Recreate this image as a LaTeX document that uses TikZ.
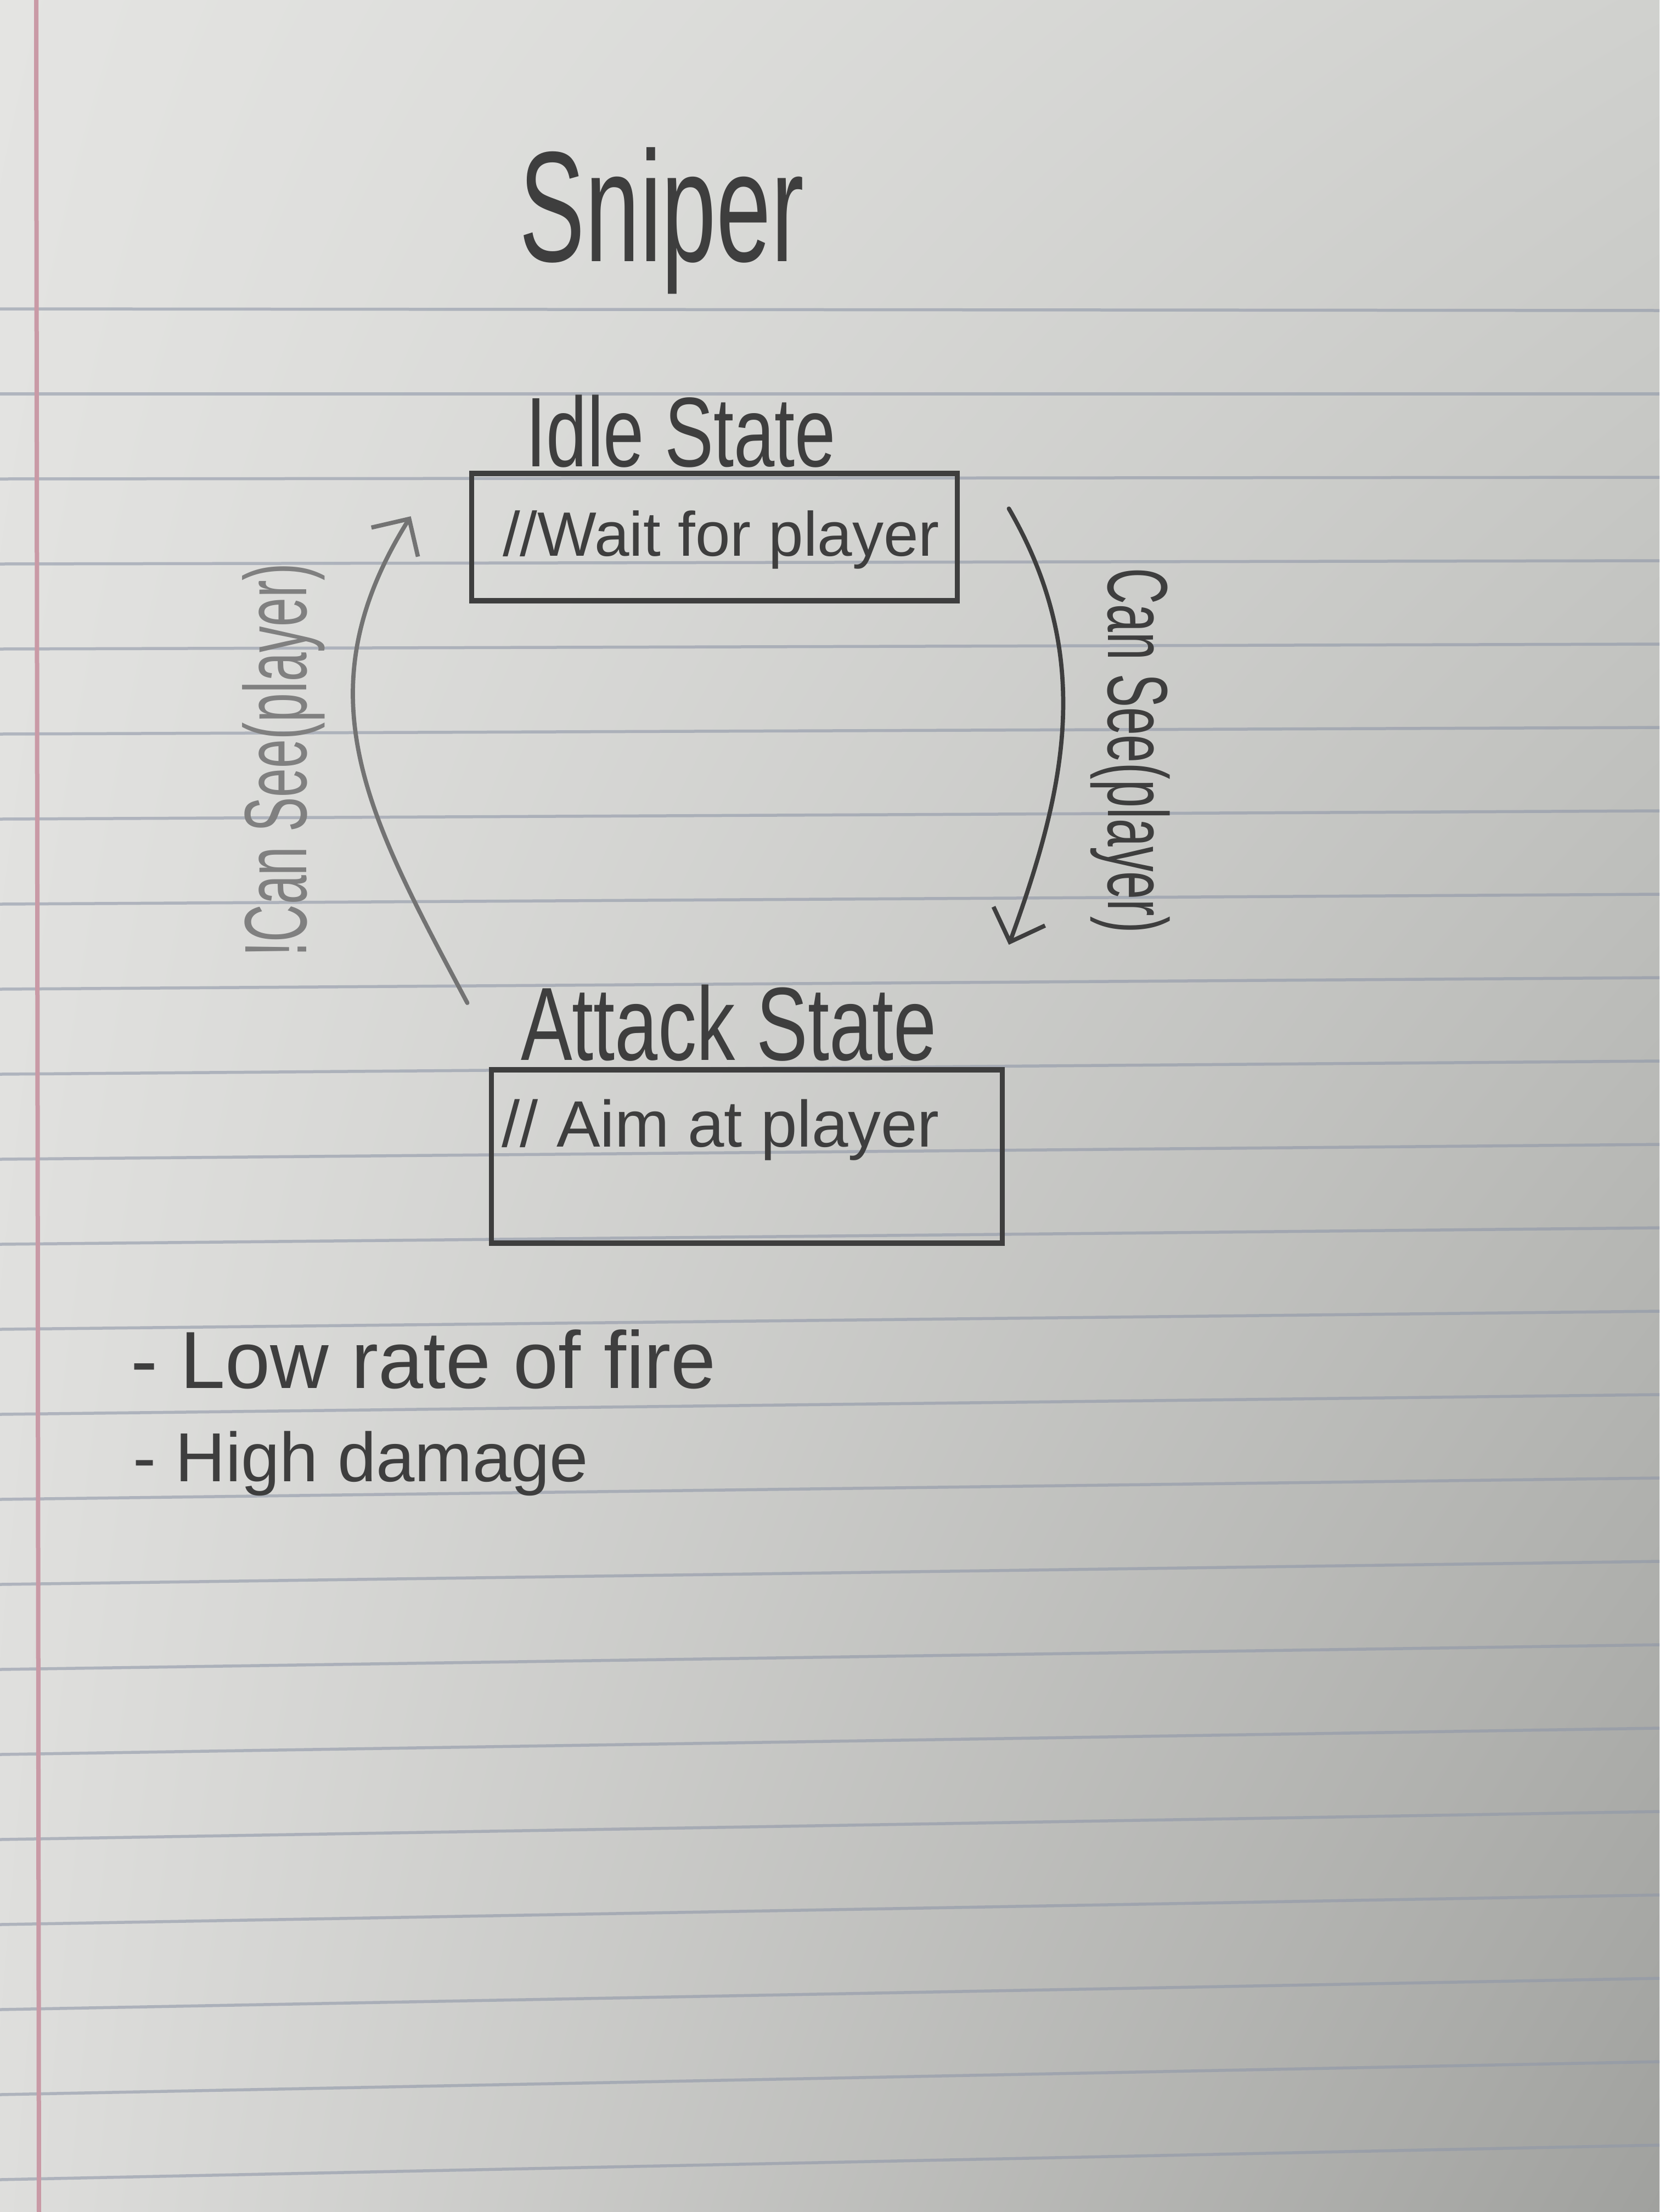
\documentclass[tikz,border=0pt]{standalone}
\usepackage{fontspec}
\setmainfont{Liberation Sans}
\usetikzlibrary{arrows.meta,shadings}

\definecolor{ink}{HTML}{3E3E3E}
\definecolor{fadeink}{HTML}{808080}
\definecolor{ruleblue}{HTML}{8F97A8}
\definecolor{marginpink}{HTML}{C99AA6}
\definecolor{paperA}{HTML}{E4E4E2}
\definecolor{paperB}{HTML}{D0D1CE}
\definecolor{paperC}{HTML}{DEDEDC}
\definecolor{paperD}{HTML}{A0A19E}

\begin{document}
\begin{tikzpicture}[
    hand/.style={text=ink, inner sep=0pt},
    statebox/.style={draw=ink, line width=2.8pt, rectangle, inner sep=0pt},
    trans/.style={draw=ink, line width=2.2pt, line cap=round,
      -{Straight Barb[length=5mm,width=10mm]}}
  ]

  % the notebook page
  \shade[upper left=paperA, upper right=paperB, lower left=paperC, lower right=paperD]
    (0,0) rectangle (30.24,-40.32);
  \useasboundingbox (0,0) rectangle (30.24,-40.32);
  \foreach \k in {0,...,22}
    \draw[ruleblue, opacity=0.6, line width=0.55mm] (0,-5.63-1.55*\k) -- (30.24,-5.66-1.52*\k);
  \draw[marginpink, line width=0.8mm] (0.66,0) -- (0.71,-40.32);

  % title
  \node[hand, font=\fontsize{51}{60}\selectfont, yscale=1.6, anchor=base] (title) at (12.06,-4.76) {Sniper};

  % states
  \node[hand, font=\fontsize{38}{44}\selectfont, yscale=1.35, anchor=base] (idlename) at (12.41,-8.50) {Idle State};
  \node[statebox, minimum width=8.85cm, minimum height=2.32cm] (idle) at (13.02,-9.79) {};
  \node[hand, font=\fontsize{32.5}{38}\selectfont, anchor=base] (idletext) at (13.14,-10.13) {//Wait for player};

  \node[hand, font=\fontsize{40}{46}\selectfont, yscale=1.35, anchor=base] (attackname) at (13.28,-19.32) {Attack State};
  \node[statebox, minimum width=9.31cm, minimum height=3.16cm] (attack) at (13.61,-21.08) {};
  \node[hand, font=\fontsize{34}{40}\selectfont, anchor=base west] (attacktext) at (9.14,-20.90) {// Aim at player};

  % transitions
  \draw[trans] ([shift={(0.89,-0.69)}]idle.north east) to[out=-60,in=70] ([shift={(0.07,2.23)}]attack.north east);
  \draw[trans, draw=fadeink!80!ink] ([shift={(-0.39,1.17)}]attack.north west) to[out=118,in=-122,looseness=1.1] ([shift={(-1.06,-0.83)}]idle.north west);

  \node[hand, font=\fontsize{26}{30}\selectfont, rotate=-90, yscale=1.7] (seelabel) at (20.60,-13.68) {Can See(player)};
  \node[hand, text=fadeink, font=\fontsize{27}{31}\selectfont, rotate=90, yscale=1.7] (lostlabel) at (5.17,-13.85) {!Can See(player)};

  % notes
  \node[hand, font=\fontsize{42}{48}\selectfont, anchor=base west] (rate) at (2.38,-25.30) {- Low rate of fire};
  \node[hand, font=\fontsize{36}{42}\selectfont, anchor=base west] (damage) at (2.42,-27.00) {- High damage};

\end{tikzpicture}
\end{document}
